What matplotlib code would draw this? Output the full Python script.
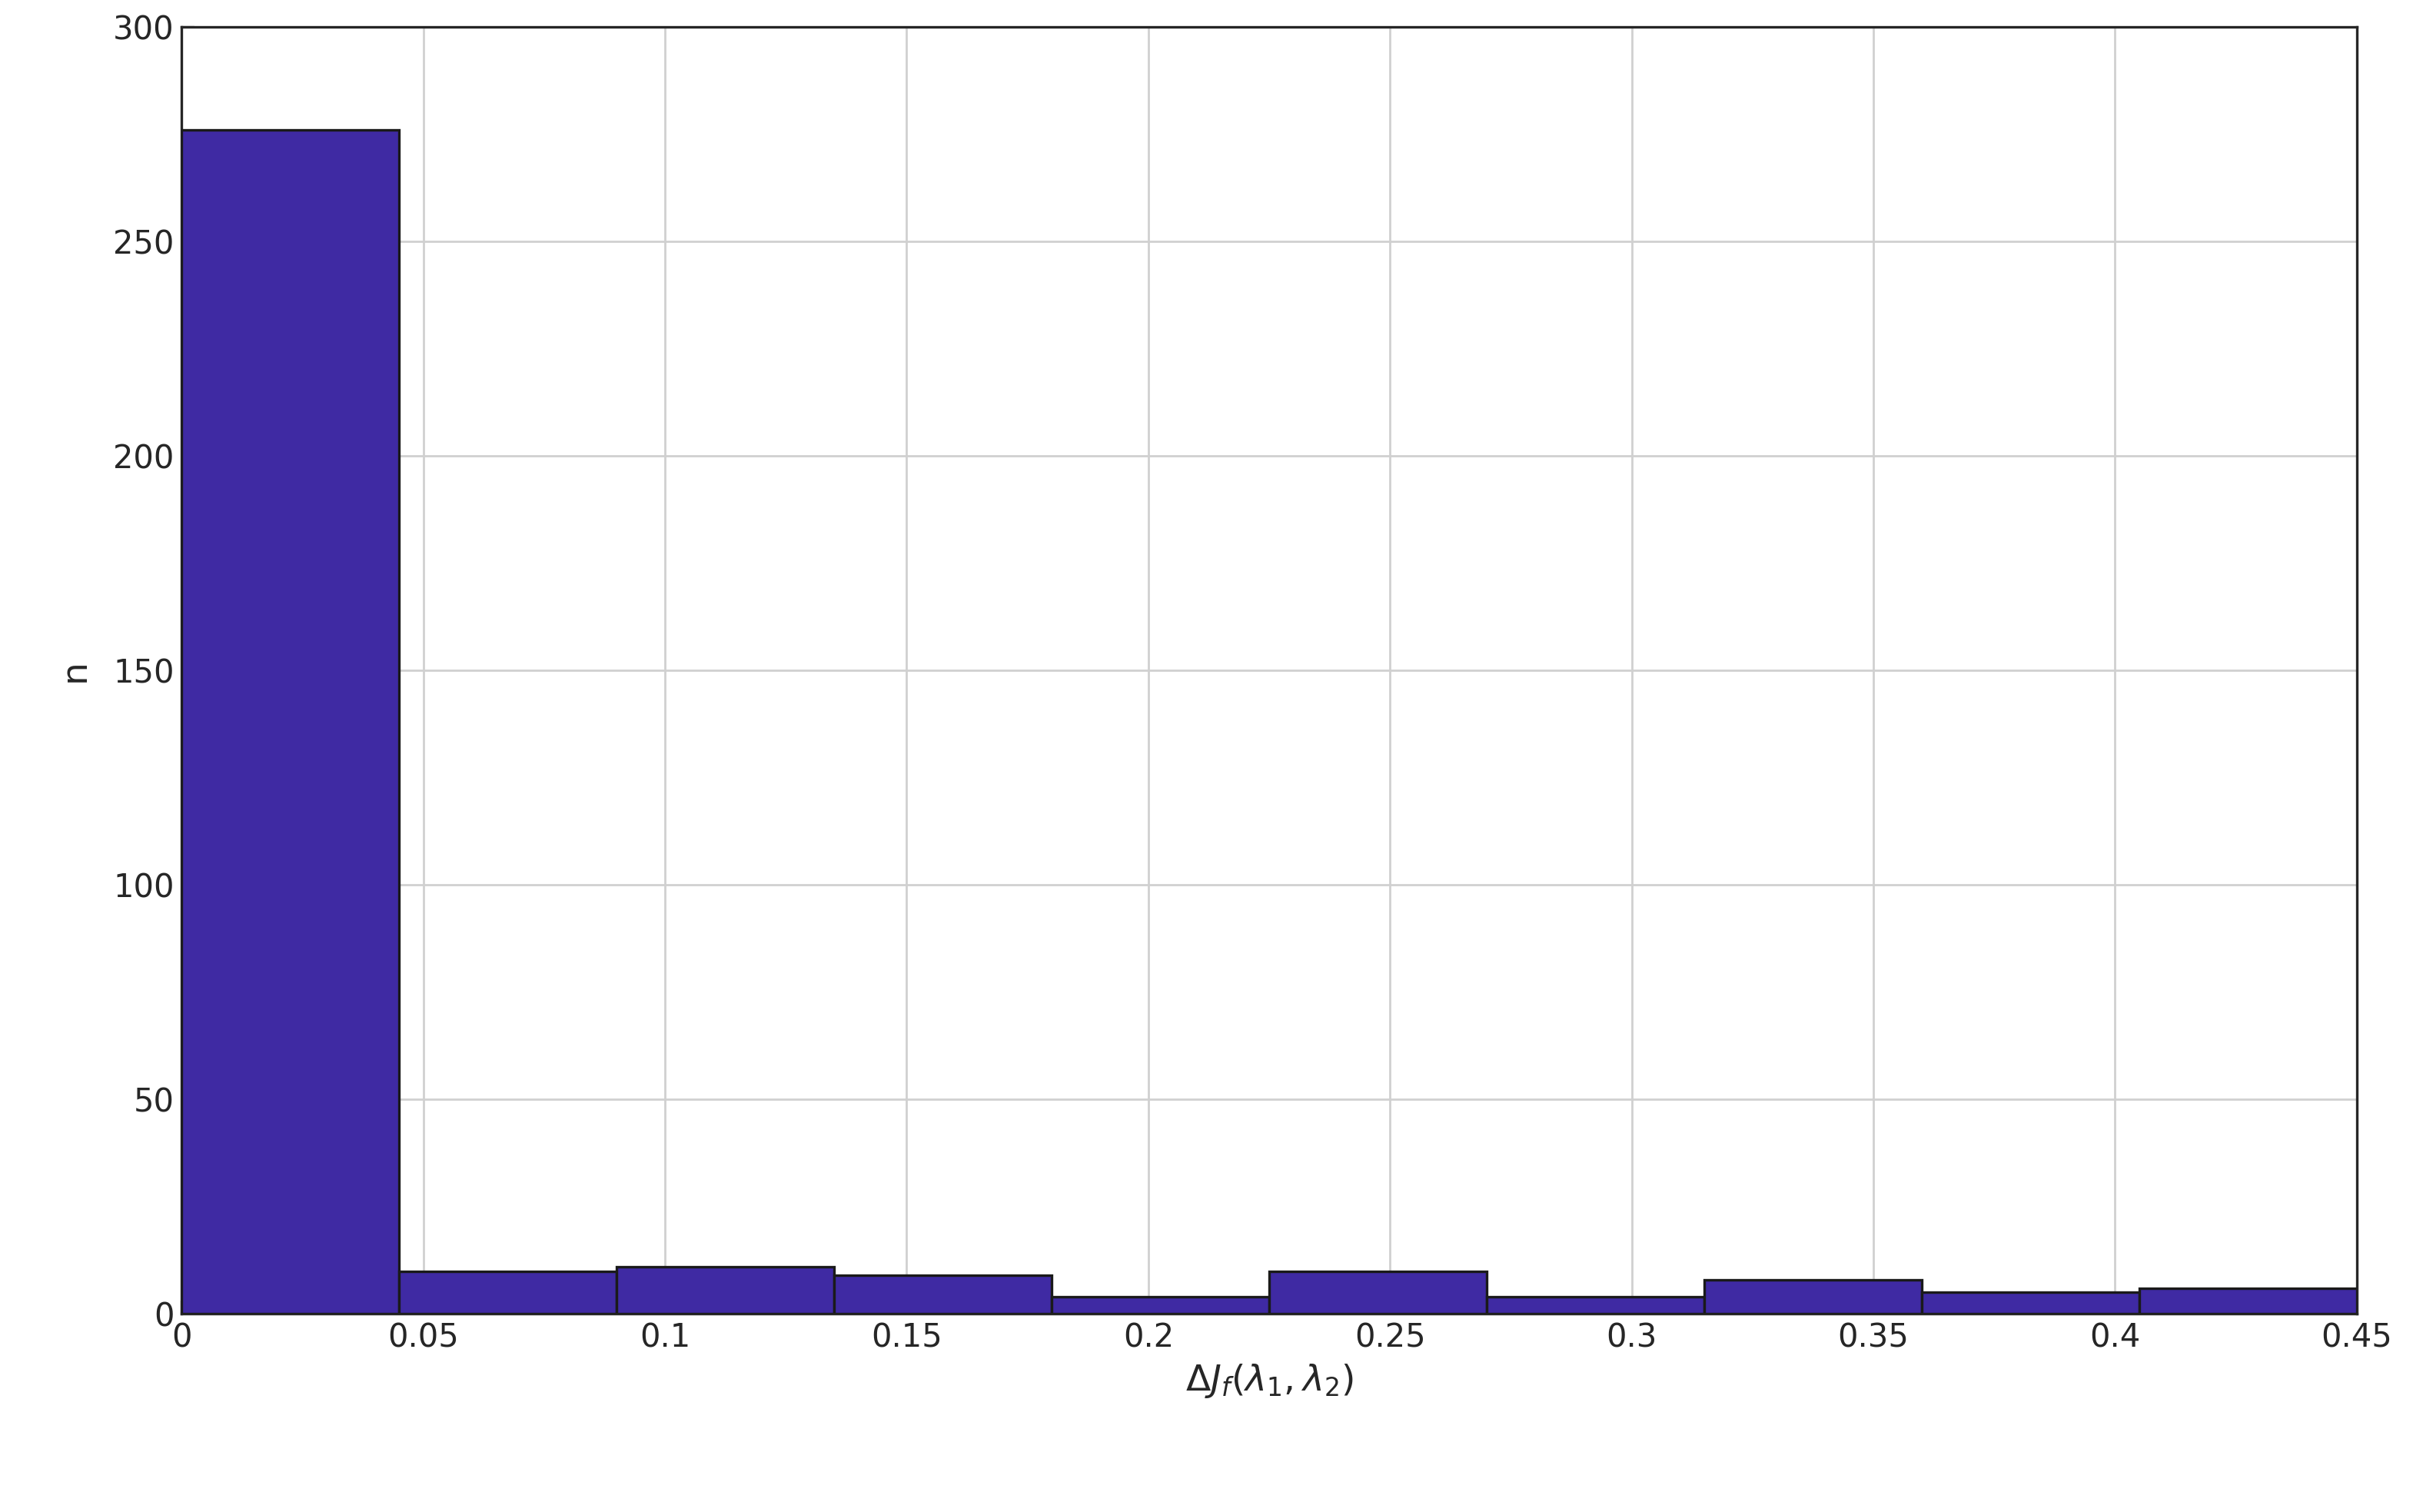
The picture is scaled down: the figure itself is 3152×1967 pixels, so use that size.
import numpy as np
import matplotlib.pyplot as plt

# histogram bin edges and counts
bin_edges = np.linspace(0, 0.45, 11)
counts = [276, 10, 11, 9, 4, 10, 4, 8, 5, 6]
x_ticks = [0, 0.05, 0.1, 0.15, 0.2, 0.25, 0.3, 0.35, 0.4, 0.45]
x_labels = ['0', '0.05', '0.1', '0.15', '0.2', '0.25', '0.3', '0.35', '0.4', '0.45']
y_ticks = [0, 50, 100, 150, 200, 250, 300]

fig = plt.figure(figsize=(15.76, 9.835), dpi=200)
ax = fig.add_axes([0.075, 0.131, 0.8976, 0.851])

ax.bar(bin_edges[:-1], counts, width=np.diff(bin_edges), align='edge',
       color='#3f2aa3', edgecolor='#1a1a1a', linewidth=1.2, zorder=3)

ax.set_xlim(0, 0.45)
ax.set_ylim(0, 300)
ax.set_xticks(x_ticks)
ax.set_xticklabels(x_labels)
ax.set_yticks(y_ticks)
ax.grid(True, color='#d0d0d0', linewidth=1.0, zorder=0)
ax.tick_params(labelsize=15, colors='#262626', direction='in', length=6)
for s in ax.spines.values():
    s.set_color('#262626')
    s.set_linewidth(1.2)

ax.set_xlabel(r'$\Delta J_f(\lambda_1,\lambda_2)$', fontsize=17, color='#262626', labelpad=4)
ax.set_ylabel('n', fontsize=17, color='#262626', labelpad=10)

fig.savefig('out.png', dpi=200)
